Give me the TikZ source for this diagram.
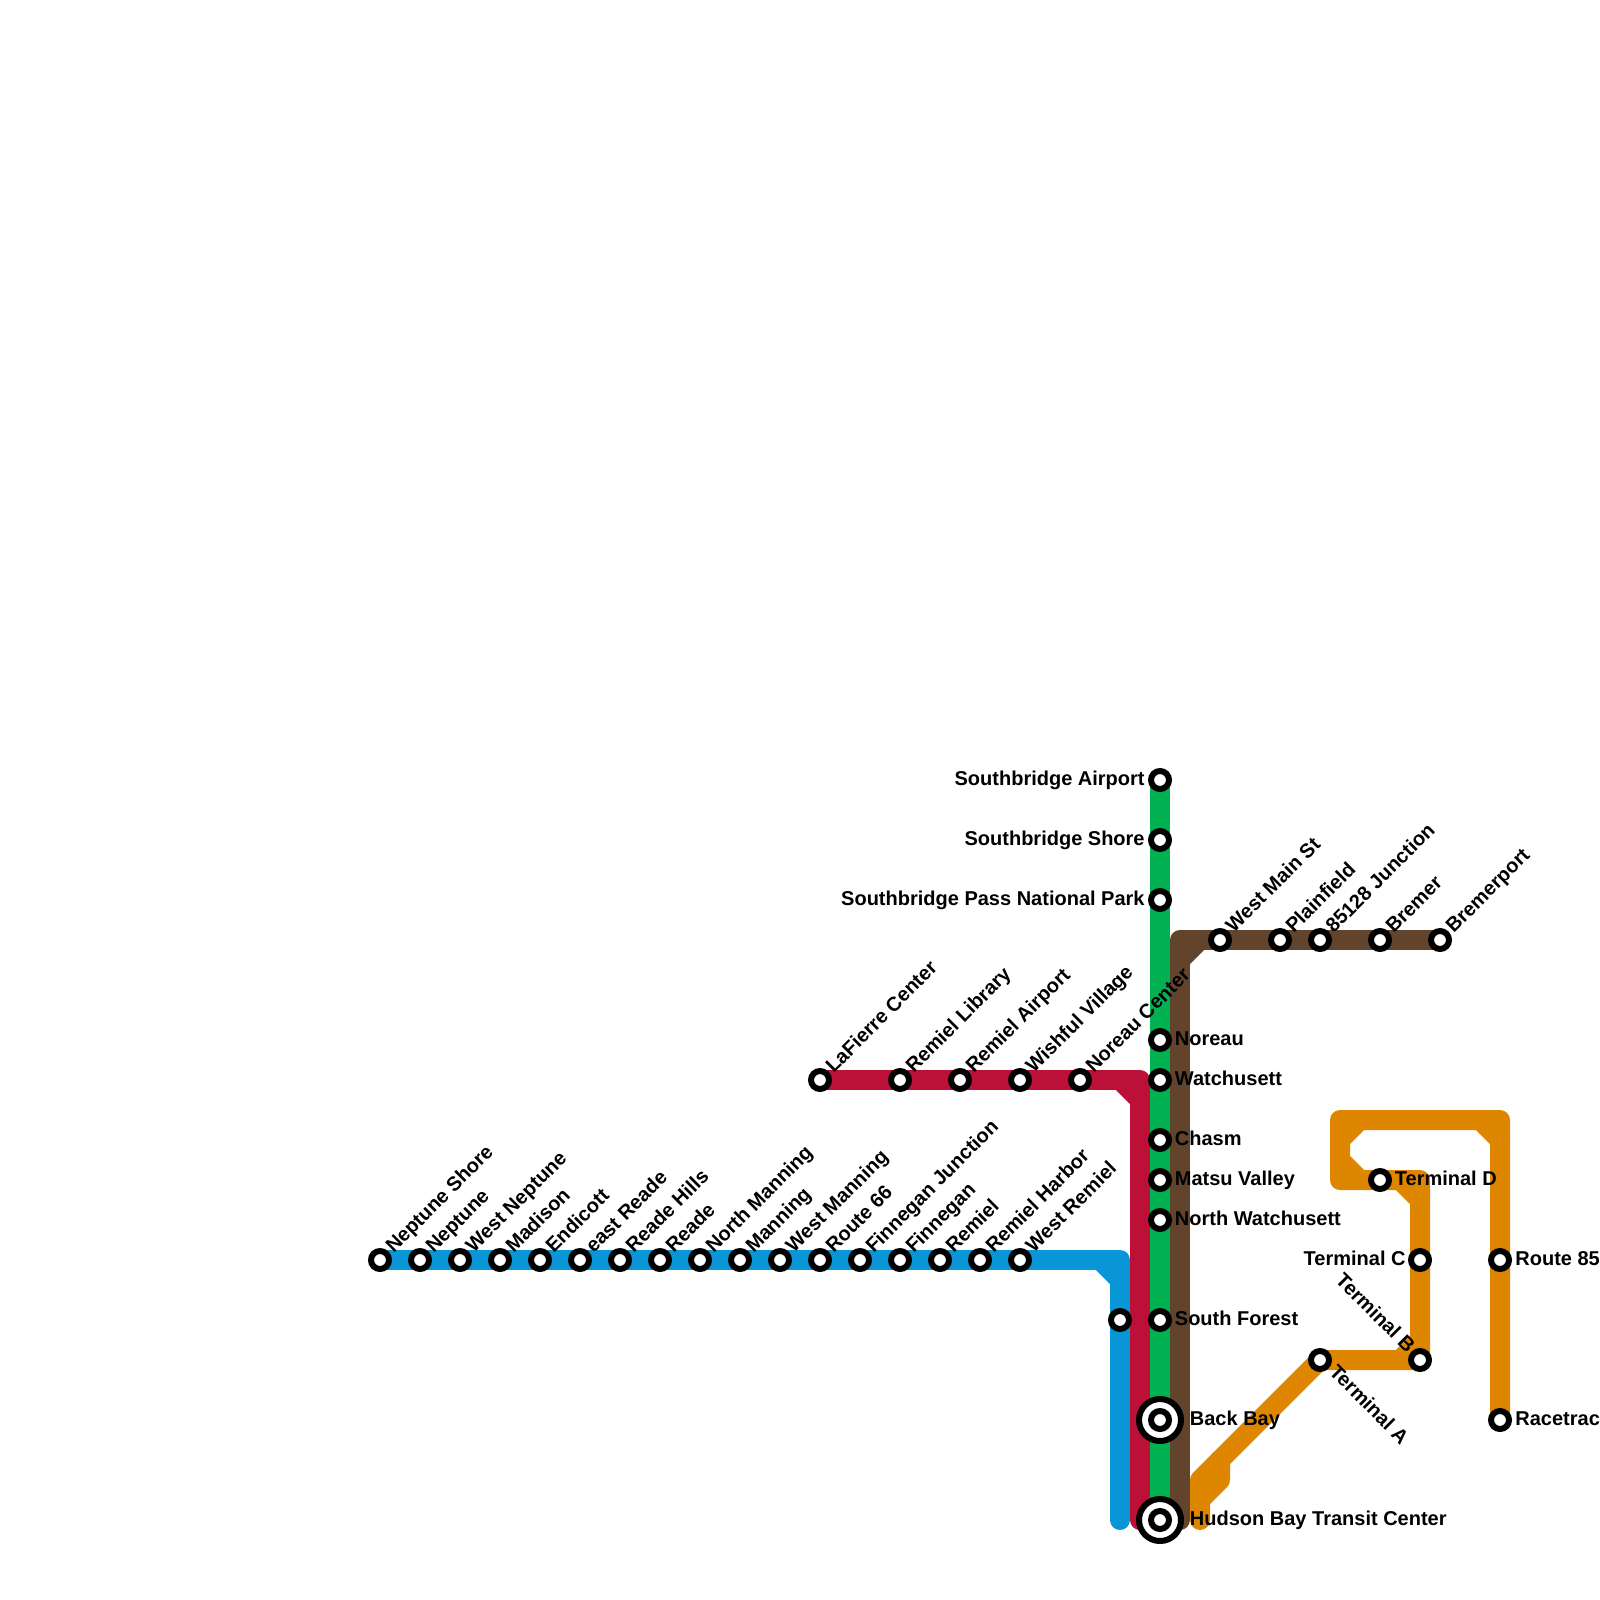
\documentclass[tikz,border=0pt]{standalone}
\usepackage{fontspec}
\setmainfont{Liberation Sans}
\usetikzlibrary{backgrounds,positioning}
\definecolor{metroblue}{HTML}{0896D7}
\definecolor{metrored}{HTML}{BD1038}
\definecolor{metrogreen}{HTML}{00B251}
\definecolor{metrobrown}{HTML}{61442B}
\definecolor{metroorange}{HTML}{DF8600}
\tikzstyle{metroline} = [line width=10pt, line cap=round, line join=round]
\tikzstyle{stop} = [circle, draw=black, fill=white, line width=3pt, minimum size=9pt, inner sep=0pt]
\tikzstyle{bigstop} = [circle, draw=black, fill=white, line width=3pt, minimum size=21pt, inner sep=0pt]
\tikzstyle{stoplabel} = [font=\bfseries\fontsize{10pt}{12pt}\selectfont, inner sep=0pt, text=black]

\begin{document}
\begin{tikzpicture}[x=0.5pt, y=-0.5pt]
\useasboundingbox (0,0) rectangle (1600,1600);

% blue line stops, labels going up
\foreach \x/\id/\name in {380/neptuneshore/Neptune Shore,420/neptune/Neptune,460/westneptune/West Neptune,500/madison/Madison,540/endicott/Endicott,580/eastreade/east Reade,620/readehills/Reade Hills,660/reade/Reade,700/northmanning/North Manning,740/manning/Manning,780/westmanning/West Manning,820/route66/Route 66,860/finneganjct/Finnegan Junction,900/finnegan/Finnegan,940/remiel/Remiel,980/remielharbor/Remiel Harbor,1020/westremiel/West Remiel}{
  \node[stop] (\id) at (\x,1260) {};
  \node[stoplabel, rotate=45, anchor=base west] (\id-l) at (\x+13.5,1254) {\name};
}
\node[stop] (bluestop) at (1120,1320) {};

% red line stops
\foreach \x/\id/\name in {820/lafierre/LaFierre Center,900/remiellib/Remiel Library,960/remielair/Remiel Airport,1020/wishful/Wishful Village,1080/noreaucenter/Noreau Center}{
  \node[stop] (\id) at (\x,1080) {};
  \node[stoplabel, rotate=45, anchor=base west] (\id-l) at (\x+13.5,1074) {\name};
}

% green line stops
\foreach \y/\id/\name in {780/sbairport/Southbridge Airport,840/sbshore/Southbridge Shore,900/sbpass/Southbridge Pass National Park}{
  \node[stop] (\id) at (1160,\y) {};
  \node[stoplabel, anchor=base east] (\id-l) at (1145,\y+5) {\name};
}
\foreach \y/\id/\name in {1040/noreau/Noreau,1080/watchusett/Watchusett,1140/chasm/Chasm,1180/matsu/Matsu Valley,1220/northwatch/North Watchusett,1320/southforest/South Forest}{
  \node[stop] (\id) at (1160,\y) {};
  \node[stoplabel, anchor=base west] (\id-l) at (1174.5,\y+5) {\name};
}
\foreach \y/\id/\name in {1420/backbay/Back Bay,1520/hudson/Hudson Bay Transit Center}{
  \node[bigstop] (\id-o) at (1160,\y) {};
  \node[stop] (\id) at (1160,\y) {};
  \node[stoplabel, anchor=base west] (\id-l) at (1189.5,\y+5) {\name};
}

% brown line stops
\foreach \x/\id/\name in {1220/westmain/West Main St,1280/plainfield/Plainfield,1320/junction/85128 Junction,1380/bremer/Bremer,1440/bremerport/Bremerport}{
  \node[stop] (\id) at (\x,940) {};
  \node[stoplabel, rotate=45, anchor=base west] (\id-l) at (\x+13.5,934) {\name};
}

% orange line stops
\node[stop] (terminala) at (1320,1360) {};
\node[stop] (terminalb) at (1420,1360) {};
\node[stop] (terminalc) at (1420,1260) {};
\node[stop] (terminald) at (1380,1180) {};
\node[stop] (route85) at (1500,1260) {};
\node[stop] (racetrack) at (1500,1420) {};
\node[stoplabel, rotate=-45, anchor=base west] (terminala-l) at (1328,1373) {Terminal A};
\node[stoplabel, rotate=-45, anchor=base east] (terminalb-l) at (1407,1354) {Terminal B};
\node[stoplabel, anchor=base east] (terminalc-l) at (1406,1265) {Terminal C};
\node[stoplabel, anchor=base west] (terminald-l) at (1394.5,1185) {Terminal D};
\node[stoplabel, anchor=base west] (route85-l) at (1515,1265) {Route 85};
\node[stoplabel, anchor=base west] (racetrack-l) at (1515,1425) {Racetrac};

\begin{scope}[on background layer]
\draw[metroline, metroblue] (neptuneshore.center) -- (1120,1260) -- (1120,1520);
\draw[metroline, metroblue] (1100,1260) -- (1120,1280);

\draw[metroline, metrored] (lafierre.center) -- (1140,1080) -- (1140,1520);
\draw[metroline, metrored] (1120,1080) -- (1140,1100);

\draw[metroline, metrogreen] (sbairport.center) -- (hudson.center);

\draw[metroline, metrobrown] (bremerport.center) -- (1180,940) -- (1180,1520);
\draw[metroline, metrobrown] (1200,940) -- (1180,960);

\draw[metroline, metroorange] (racetrack.center) -- (1500,1120) -- (1340,1120) -- (1340,1180) -- (1420,1180) -- (terminalb.center) -- (terminala.center) -- (1200,1480) -- (1200,1520);
\draw[metroline, metroorange] (1480,1120) -- (1500,1140);
\draw[metroline, metroorange] (1340,1140) -- (1360,1120);
\draw[metroline, metroorange] (1340,1160) -- (1360,1180);
\draw[metroline, metroorange] (1400,1180) -- (1420,1200);
\draw[metroline, metroorange] (1420,1340) -- (1400,1360);
\draw[metroline, metroorange] (1220,1460) -- (1220,1480) -- (1200,1500);
\end{scope}
\end{tikzpicture}
\end{document}
